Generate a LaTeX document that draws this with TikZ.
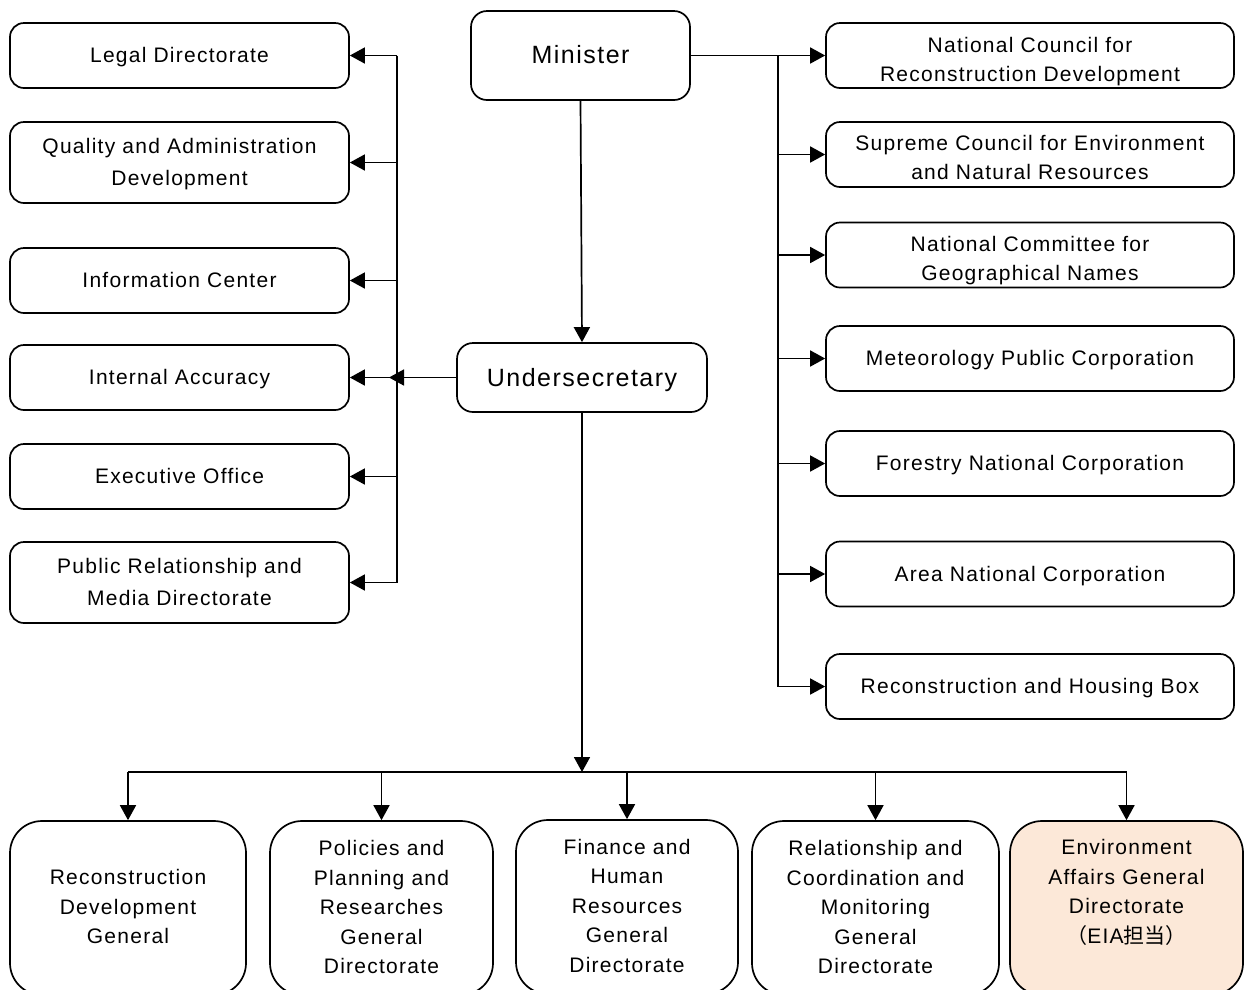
\documentclass[tikz,border=0pt]{standalone}
\usepackage{fontspec}
\setmainfont{Liberation Sans}[LetterSpace=6]
\newfontfamily\cjk{Noto Sans CJK SC}
\usetikzlibrary{arrows.meta}
\definecolor{eiafill}{RGB}{252,232,216}
\tikzset{
  unitbox/.style={draw, line width=1.7pt, rounded corners=14pt, inner sep=0pt},
  headbox/.style={unitbox, rounded corners=16pt},
  dirbox/.style={unitbox, rounded corners=32pt, minimum height=174pt},
  txt/.style={align=center, inner sep=0pt, font=\fontsize{21}{29.5}\selectfont},
  widetxt/.style={txt, font=\fontsize{21}{32}\selectfont},
  headtxt/.style={txt, font=\fontsize{25}{30}\selectfont},
  link/.style={line width=1.7pt},
  arr/.style={link, -{Triangle[length=15pt,width=16pt]}},
}
\begin{document}
\begin{tikzpicture}[x=1pt,y=-1pt]
\useasboundingbox (0,0) rectangle (1245,989);
\clip (0,0) rectangle (1245,989);

% top level
\node[headbox, minimum width=219pt, minimum height=89pt] (minister) at (580.5,55.5) {};
\node[headtxt] (minister-t) at ([yshift=1pt]minister.center) {Minister};
\node[headbox, minimum width=250pt, minimum height=69pt] (under) at (582,377.5) {};
\node[headtxt] (under-t) at ([yshift=-3pt]under.center) {Undersecretary};

% offices attached to the undersecretary
\begin{scope}[every node/.append style={minimum width=339pt, minimum height=65pt}]
\node[unitbox] (legal)    at (179.5,55.5)  {};
\node[unitbox] (info)     at (179.5,280.5) {};
\node[unitbox] (internal) at (179.5,377.5) {};
\node[unitbox] (exec)     at (179.5,476.5) {};
\node[unitbox, minimum height=81pt] (quality) at (179.5,162.5) {};
\node[unitbox, minimum height=81pt] (media)   at (179.5,582.5) {};
\end{scope}
\node[txt] (legal-t)    at ([yshift=-2pt]legal.center)    {Legal Directorate};
\node[widetxt] (quality-t) at ([yshift=-1.5pt]quality.center) {Quality and Administration\\Development};
\node[txt] (info-t)     at ([yshift=1pt]info.center)      {Information Center};
\node[txt] (internal-t) at ([yshift=-2pt]internal.center) {Internal Accuracy};
\node[txt] (exec-t)     at ([yshift=1pt]exec.center)      {Executive Office};
\node[widetxt] (media-t) at ([yshift=0.5pt]media.center)  {Public Relationship and\\Media Directorate};

% bodies attached to the minister
\begin{scope}[every node/.append style={minimum width=408pt, minimum height=65pt}]
\node[unitbox] (ncrd)    at (1030,55.5)  {};
\node[unitbox] (supreme) at (1030,154.5) {};
\node[unitbox] (geo)     at (1030,255)   {};
\node[unitbox] (meteo)   at (1030,358.5) {};
\node[unitbox] (forest)  at (1030,463.5) {};
\node[unitbox] (area)    at (1030,574)   {};
\node[unitbox] (housing) at (1030,686.5) {};
\end{scope}
\node[txt] (ncrd-t)    at ([yshift=-6pt]ncrd.center)    {National Council for\\Reconstruction Development};
\node[txt] (supreme-t) at ([yshift=-3pt]supreme.center) {Supreme Council for Environment\\and Natural Resources};
\node[txt] (geo-t)     at ([yshift=-5.5pt]geo.center)   {National Committee for\\Geographical Names};
\node[txt] (meteo-t)   at ([yshift=-2pt]meteo.center)   {Meteorology Public Corporation};
\node[txt] (forest-t)  at ([yshift=-2pt]forest.center)  {Forestry National Corporation};
\node[txt] (area-t)    at ([yshift=-2pt]area.center)    {Area National Corporation};
\node[txt] (housing-t) at ([yshift=-2pt]housing.center) {Reconstruction and Housing Box};

% general directorates
\node[dirbox, minimum width=236pt] (recdev)  at (128,908)    {};
\node[dirbox, minimum width=223pt] (policy)  at (381.5,908)  {};
\node[dirbox, minimum width=222pt] (finance) at (627,907)    {};
\node[dirbox, minimum width=247pt] (coord)   at (875.5,908)  {};
\node[dirbox, minimum width=233pt, fill=eiafill] (env) at (1126.5,908) {};
\node[txt] (recdev-t)  at ([yshift=1.5pt]recdev.center)  {Reconstruction\\Development\\General};
\node[txt] (policy-t)  at ([yshift=1pt]policy.center)    {Policies and\\Planning and\\Researches\\General\\Directorate};
\node[txt] (finance-t) at ([yshift=1.5pt]finance.center) {Finance and\\Human\\Resources\\General\\Directorate};
\node[txt] (coord-t)   at ([yshift=1pt]coord.center)     {Relationship and\\Coordination and\\Monitoring\\General\\Directorate};
\node[txt, anchor=north] (env-t) at ([yshift=1pt]policy-t.north -| env.center)
  {Environment\\Affairs General\\Directorate\\{\cjk （}EIA{\cjk 担当）}};

% bus lines
\coordinate (lbt) at (397,55.5);
\coordinate (lbb) at (397,582.5);
\coordinate (rbt) at (778,55.5);
\coordinate (rbb) at (778,686.5);
\coordinate (dbus) at (582,772);
\coordinate (dbl) at (128,772);
\coordinate (dbr) at (1126.5,772);

% left side
\draw[link] (lbt) -- (lbb);
\foreach \n in {legal,quality,info,internal,exec,media}
  \draw[arr] (\n.east -| lbt) -- (\n.east);
\draw[arr] (under.west) -- ([xshift=-8pt]under.west -| lbt);

% right side
\draw[arr] (minister.east) -- (ncrd.west);
\draw[link] (rbt) -- (rbb);
\foreach \n in {supreme,geo,meteo,forest,area,housing}
  \draw[arr] (\n.west -| rbt) -- (\n.west);

% downward chain
\draw[arr] (minister.south) -- (under.north);
\draw[arr] (under.south) -- (dbus);
\draw[link] (dbl) -- (dbr);
\foreach \n in {recdev,policy,finance,coord,env}
  \draw[arr] (\n.north |- dbus) -- (\n.north);
\end{tikzpicture}
\end{document}
